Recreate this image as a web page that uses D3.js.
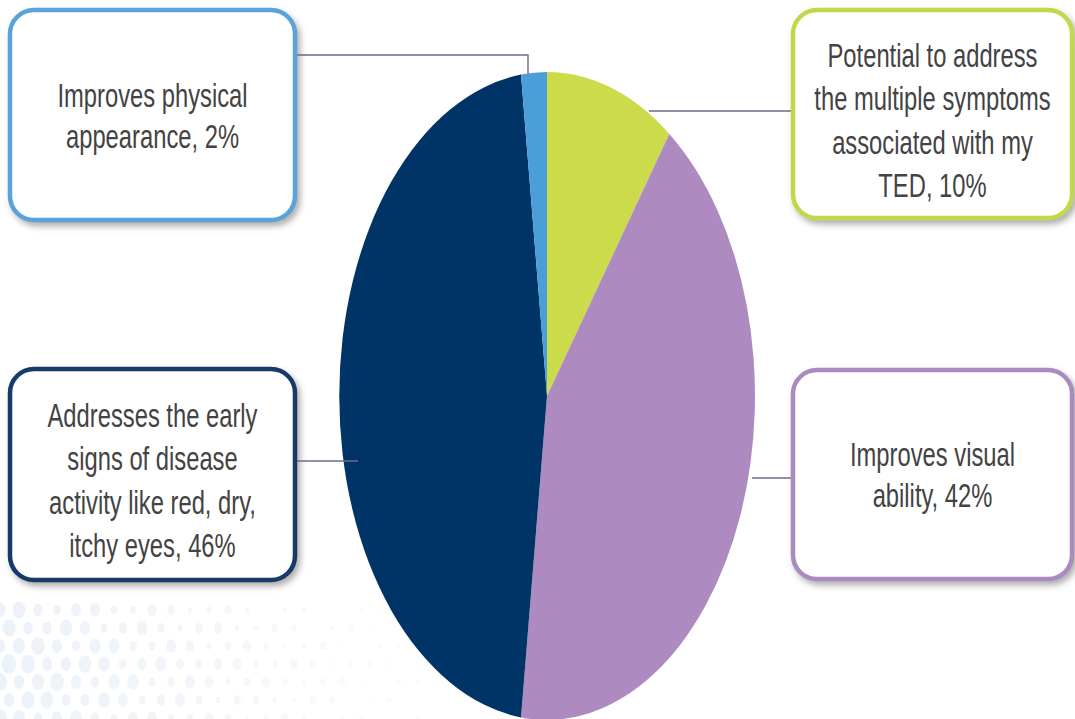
<!DOCTYPE html>
<html>
<head>
<meta charset="utf-8">
<script src="https://cdn.jsdelivr.net/npm/d3@7/dist/d3.min.js"></script>
<style>
  html, body { margin: 0; padding: 0; background: #ffffff; }
  svg { display: block; }
  .lbl { font-family: "Liberation Sans Narrow", "Arial Narrow", "Liberation Sans", Arial, sans-serif; fill: #434343; }
</style>
</head>
<body>
<svg id="chart" width="1075" height="719"></svg>
<script>
// Reasons for preferring a TED treatment (share of responses), clockwise from 12 o'clock
const categories = [
  "Potential to address the multiple symptoms associated with my TED",
  "Improves visual ability",
  "Addresses the early signs of disease activity like red, dry, itchy eyes",
  "Improves physical appearance"
];
const values = [10, 42, 46, 2];
const labelLines = [
  ["Potential to address", "the multiple symptoms", "associated with my", "TED, 10%"],
  ["Improves visual", "ability, 42%"],
  ["Addresses the early", "signs of disease", "activity like red, dry,", "itchy eyes, 46%"],
  ["Improves physical", "appearance, 2%"]
];
const sliceColors = ["#cbdb49", "#ad8bc0", "#003466", "#4b9fd8"];
const borderColors = ["#c3d84a", "#a98bbf", "#123a69", "#5aa3d9"];

const svg = d3.select("#chart");

// shadow filter for the callout boxes
const defs = svg.append("defs");
const f = defs.append("filter").attr("id", "shadow")
  .attr("x", "-10%").attr("y", "-10%").attr("width", "125%").attr("height", "130%");
f.append("feDropShadow").attr("dx", 3).attr("dy", 4).attr("stdDeviation", 3)
  .attr("flood-color", "#6b6b6b").attr("flood-opacity", 0.55);

// faint halftone dots in the lower-left background
const dotG = svg.append("g").attr("class", "dots");
d3.range(0, 7).forEach(r => {
  d3.range(0, 28).forEach(c => {
    const x = c * 19 + (r % 2 ? 9 : 0);
    const y = 610 + r * 18;
    const rad = 9 - c * 0.32 - Math.abs(r - 3.5) * 0.5 + 1.5 * Math.sin(c * 1.7 + r * 2.3);
    if (rad > 1.5 && x < 500) {
      dotG.append("ellipse").attr("cx", x).attr("cy", y)
        .attr("rx", rad * 0.75).attr("ry", rad)
        .attr("fill", "#e3ecf6").attr("opacity", Math.max(0.2, 0.7 - c * 0.025));
    }
  });
});

// elliptical pie: unit-radius arcs stretched to the ellipse
const cx = 547, cy = 396, rx = 208, ry = 324;
const pie = d3.pie().sort(null).value(d => d)(values);
const arc = d3.arc().innerRadius(0).outerRadius(1);
const pieG = svg.append("g").attr("transform", `translate(${cx},${cy}) scale(${rx},${ry})`);
pieG.selectAll("path").data(pie).join("path")
  .attr("d", arc)
  .attr("fill", (d, i) => sliceColors[i])
  .attr("stroke", "none");

// leader lines
const lineColor = "#6f6a8c";
const leaders = [
  [[649, 111], [793, 111]],
  [[752, 478], [793, 478]],
  [[295, 461], [358, 461]],
  [[295, 55], [528, 55], [528, 74]]
];
svg.append("g").selectAll("path").data(leaders).join("path")
  .attr("d", d => d3.line()(d))
  .attr("fill", "none").attr("stroke", lineColor).attr("stroke-width", 1.4);

// callout boxes (firstBase = baseline of the first text line)
const boxes = [
  { x: 793, y: 10, w: 279, h: 208, firstBase: 67, step: 43.3 },
  { x: 793, y: 370, w: 279, h: 209, firstBase: 466, step: 41 },
  { x: 10, y: 369, w: 285, h: 211, firstBase: 427, step: 43.3 },
  { x: 10, y: 10, w: 285, h: 210, firstBase: 107, step: 40.5 }
];
const boxG = svg.append("g").selectAll("g").data(boxes).join("g");
boxG.append("rect")
  .attr("x", d => d.x).attr("y", d => d.y)
  .attr("width", d => d.w).attr("height", d => d.h)
  .attr("rx", 24).attr("ry", 24)
  .attr("fill", "#ffffff")
  .attr("stroke", (d, i) => borderColors[i])
  .attr("stroke-width", 4.5)
  .attr("filter", "url(#shadow)");
boxG.each(function(d, i) {
  const g = d3.select(this);
  labelLines[i].forEach((t, j) => {
    // condensed look: regular sans squeezed horizontally
    g.append("text").attr("class", "lbl")
      .attr("transform", `translate(${d.x + d.w / 2},${d.firstBase + j * d.step}) scale(0.72,1)`)
      .attr("text-anchor", "middle")
      .attr("font-size", 33)
      .text(t);
  });
});
</script>
</body>
</html>
